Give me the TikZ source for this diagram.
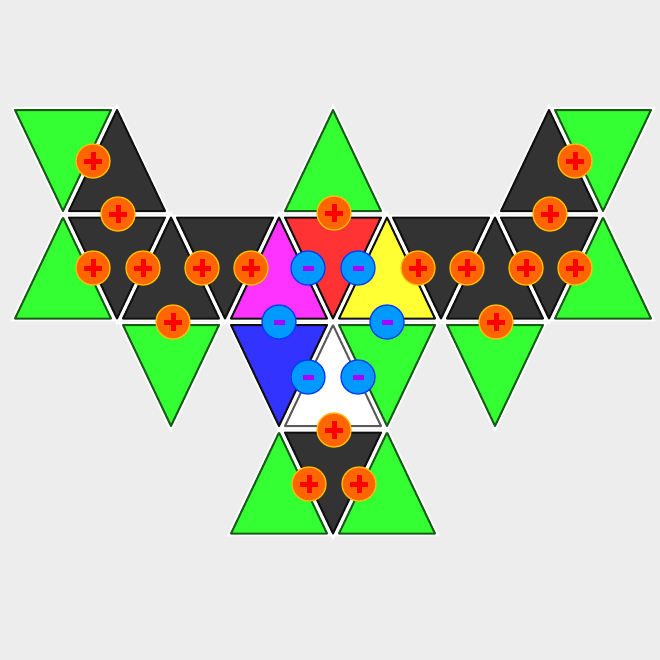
\documentclass[tikz,border=0pt]{standalone}
\usepackage{tikz}
\definecolor{bgGray}{RGB}{237,237,237}
\definecolor{triGreen}{RGB}{51,255,51}
\definecolor{triGreenLine}{RGB}{25,90,25}
\definecolor{triDark}{RGB}{51,51,51}
\definecolor{triDarkLine}{RGB}{15,15,15}
\definecolor{triRed}{RGB}{255,51,51}
\definecolor{triMagenta}{RGB}{255,51,255}
\definecolor{triYellow}{RGB}{255,255,51}
\definecolor{triBlue}{RGB}{51,51,255}
\definecolor{triWhiteLine}{RGB}{90,90,90}
\definecolor{posFill}{RGB}{255,102,0}
\definecolor{posRim}{RGB}{255,190,0}
\definecolor{posSign}{RGB}{255,0,0}
\definecolor{negFill}{RGB}{0,153,255}
\definecolor{negRim}{RGB}{0,60,255}
\definecolor{negSign}{RGB}{170,0,255}

\begin{document}
\begin{tikzpicture}[
    x=0.03cm, y=-0.03cm,
    tri/.style={line width=1.7pt, line join=round, preaction={draw=white, line width=5pt}},
    charge/.style={circle, minimum size=1.02cm, inner sep=0pt, line width=1.1pt},
    poscharge/.style={charge, fill=posFill, draw=posRim,
      path picture={
        \fill[posSign] ([xshift=-0.27cm, yshift=-0.075cm]path picture bounding box.center) rectangle ([xshift=0.27cm, yshift=0.075cm]path picture bounding box.center);
        \fill[posSign] ([xshift=-0.075cm, yshift=-0.27cm]path picture bounding box.center) rectangle ([xshift=0.075cm, yshift=0.27cm]path picture bounding box.center);
      }},
    negcharge/.style={charge, fill=negFill, draw=negRim,
      path picture={
        \fill[negSign] ([xshift=-0.165cm, yshift=-0.075cm]path picture bounding box.center) rectangle ([xshift=0.165cm, yshift=0.075cm]path picture bounding box.center);
      }}
  ]
    \fill[bgGray] (0,0) rectangle (660,660);
    \useasboundingbox (0,0) rectangle (660,660);

    \foreach \i/\j/\fc/\lc in {1/0/triDark/triDarkLine, 5/0/triGreen/triGreenLine, 9/0/triDark/triDarkLine,
        0/1/triGreen/triGreenLine, 2/1/triDark/triDarkLine, 4/1/triMagenta/triDarkLine, 6/1/triYellow/triDarkLine,
        8/1/triDark/triDarkLine, 10/1/triGreen/triGreenLine, 5/2/white/triWhiteLine,
        4/3/triGreen/triGreenLine, 6/3/triGreen/triGreenLine}
      \filldraw[tri, fill=\fc, draw=\lc] ({63+54*\i},{110+107.5*\j}) -- ++(48,101) -- ++(-96,0) -- cycle;

    \foreach \i/\j/\fc/\lc in {0/0/triGreen/triGreenLine, 10/0/triGreen/triGreenLine,
        1/1/triDark/triDarkLine, 3/1/triDark/triDarkLine, 5/1/triRed/triDarkLine, 7/1/triDark/triDarkLine, 9/1/triDark/triDarkLine,
        2/2/triGreen/triGreenLine, 4/2/triBlue/triDarkLine, 6/2/triGreen/triGreenLine, 8/2/triGreen/triGreenLine,
        5/3/triDark/triDarkLine}
      \filldraw[tri, fill=\fc, draw=\lc] ({15+54*\i},{110+107.5*\j}) -- ++(96,0) -- ++(-48,101) -- cycle;

    \foreach \x/\y [count=\k] in {93/161, 118/214, 93/268, 143/268, 202/268, 251/268, 173/322, 334/213,
        418/268, 467/268, 526/268, 575/268, 575/161, 550/214, 496/322, 334/430, 309/484, 359/484}
      \node[poscharge] (p\k) at (\x,\y) {};

    \foreach \x/\y [count=\k] in {308/268, 358/268, 279/322, 387/322, 308/377, 358/377}
      \node[negcharge] (m\k) at (\x,\y) {};
  \end{tikzpicture}
\end{document}
